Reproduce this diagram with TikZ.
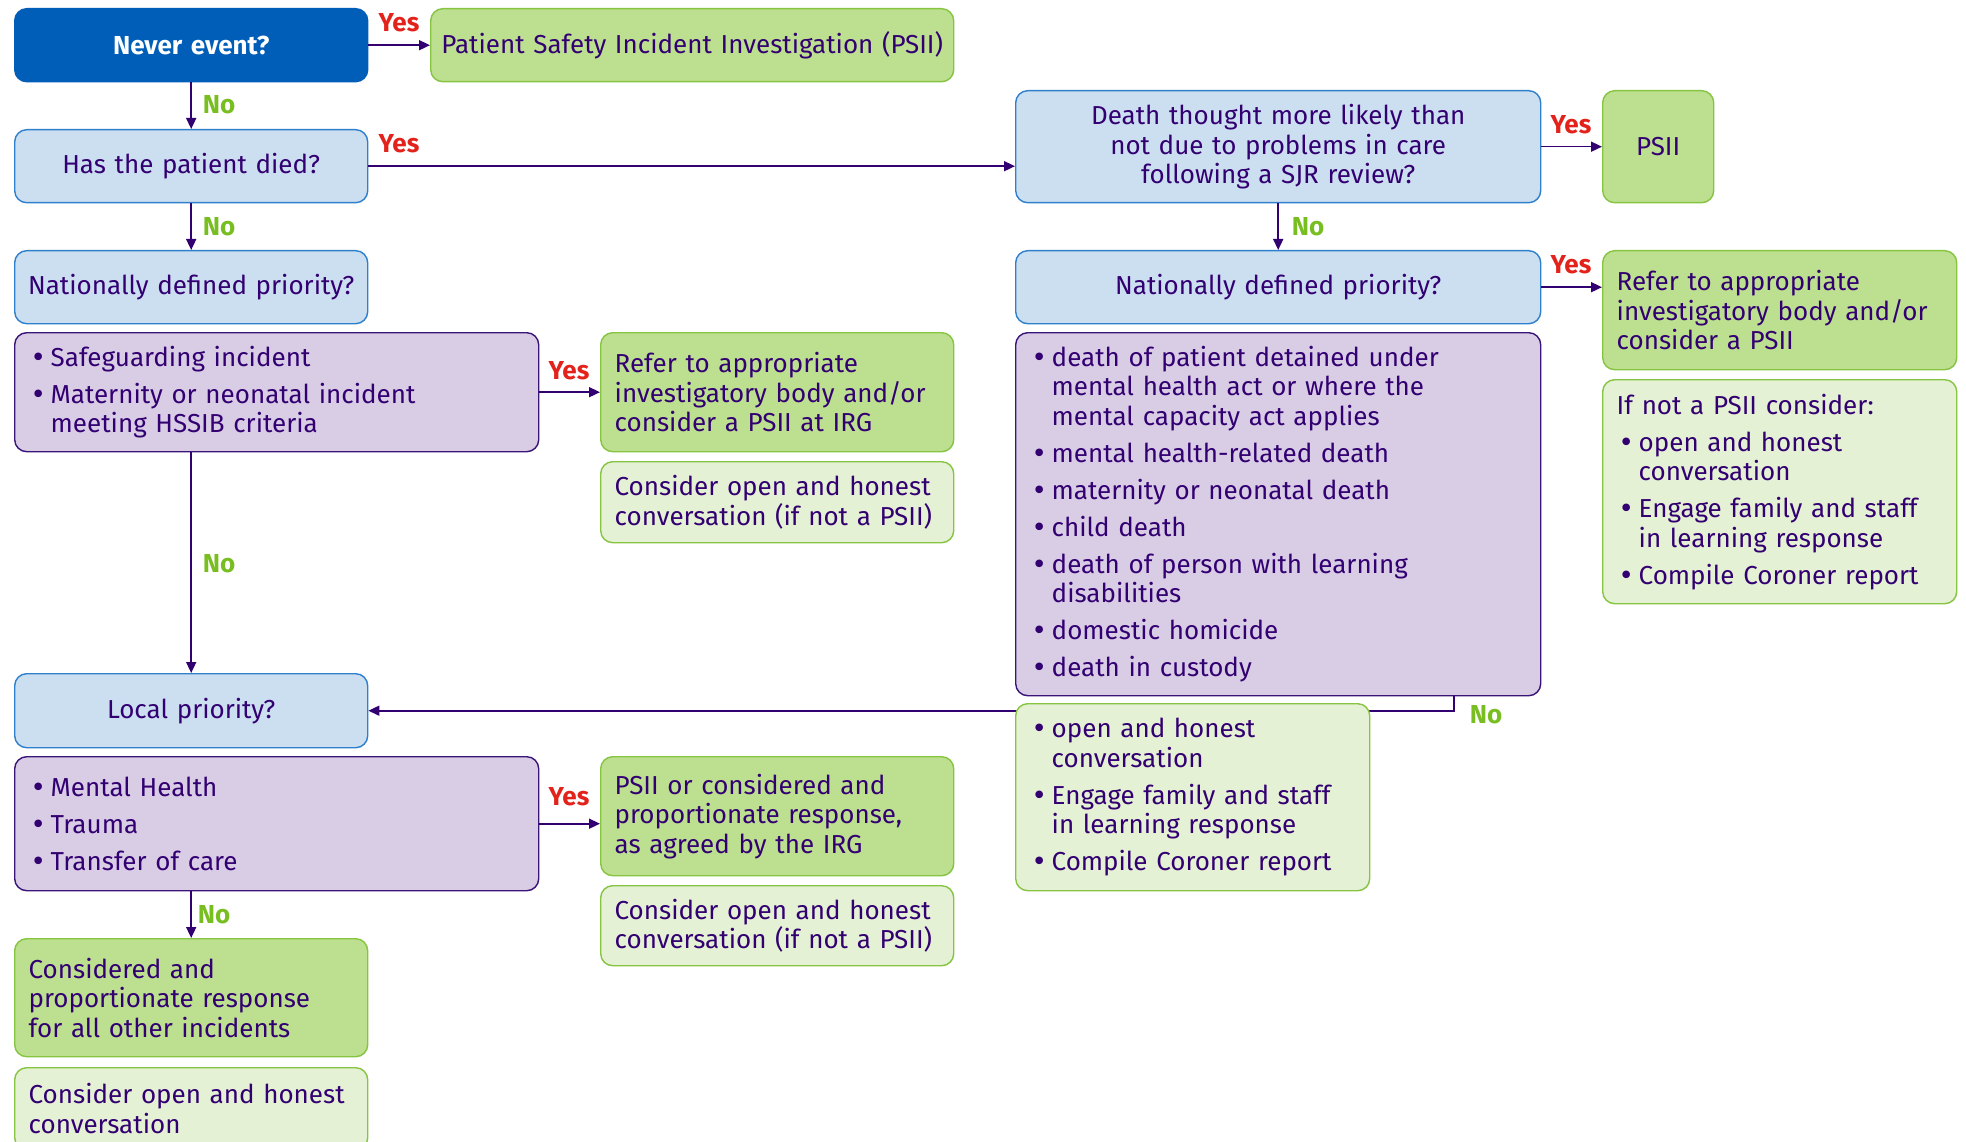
\documentclass[tikz,border=0pt]{standalone}
\usepackage{fontspec}
\setmainfont{Fira Sans}
\newfontfamily\bulfont{DejaVu Sans}
\usetikzlibrary{arrows.meta}

\definecolor{nhsblue}{HTML}{005EB8}
\definecolor{qfill}{HTML}{CCDFF1}
\definecolor{qdraw}{HTML}{2F80CC}
\definecolor{pfill}{HTML}{D8CDE5}
\definecolor{pdraw}{HTML}{3A1478}
\definecolor{gfill}{HTML}{BCE08F}
\definecolor{gdraw}{HTML}{86C441}
\definecolor{lgfill}{HTML}{E4F1D4}
\definecolor{txt}{HTML}{330072}
\definecolor{yescol}{HTML}{E3231B}
\definecolor{nocol}{HTML}{79BE21}

% bullet items with hanging indent
\newcommand{\itm}{\hspace*{2pt}\makebox[20pt][l]{\bulfont •}}
\newcommand{\cnt}{\hspace*{22pt}}
\newcommand{\bodysize}{\fontsize{26}{29.5}\selectfont}

\begin{document}
\begin{tikzpicture}[x=1pt,y=-1pt,
  box/.style={rounded corners=12pt, line width=1.4pt, inner xsep=14pt,
    inner ysep=0pt, anchor=north west, font=\bodysize, text=txt},
  qbox/.style={box, draw=qdraw, fill=qfill, align=center, inner xsep=6pt},
  topq/.style={box, draw=nhsblue, fill=nhsblue, text=white, align=center,
    inner xsep=6pt, font=\bfseries\bodysize},
  pbox/.style={box, draw=pdraw, fill=pfill, align=left},
  gbox/.style={box, draw=gdraw, fill=gfill, align=left},
  lgbox/.style={box, draw=gdraw, fill=lgfill, align=left},
  arr/.style={draw=txt, line width=1.6pt, -{Triangle[length=11pt,width=10pt]}},
  yes/.style={text=yescol, font=\bfseries\fontsize{26}{26}\selectfont, inner sep=0pt},
  no/.style={text=nocol, font=\bfseries\fontsize{26}{26}\selectfont, inner sep=0pt}
]
\useasboundingbox (0,0) rectangle (1966,1142);
\fill[white] (0,0) rectangle (1966,1142);

% ---- left column ----
\node[topq, minimum width=353pt, minimum height=73pt, text width=341pt] (never) at (14,8) {Never event?};
\node[gbox, align=center, inner xsep=3pt, minimum width=523pt, minimum height=73pt, text width=517pt] (psiia) at (430,8) {\mbox{Patient Safety Incident Investigation (PSII)}};
\node[qbox, minimum width=353pt, minimum height=73pt, text width=341pt] (died) at (14,129) {Has the patient died?};
\node[qbox, minimum width=353pt, minimum height=73pt, text width=341pt] (natl) at (14,250) {Nationally defined priority?};
\node[pbox, minimum width=524pt, minimum height=119pt, text width=496pt] (purpl) at (14,332)
  {\itm Safeguarding incident\\[7.5pt]
   \itm Maternity or neonatal incident\\
   \cnt meeting HSSIB criteria};
\node[gbox, minimum width=353pt, minimum height=119pt, text width=325pt] (referl) at (600,332)
  {Refer to appropriate\\investigatory body and/or\\consider a PSII at IRG};
\node[lgbox, minimum width=353pt, minimum height=81pt, text width=325pt] (consl) at (600,461)
  {Consider open and honest\\conversation (if not a PSII)};
\node[qbox, minimum width=353pt, minimum height=74pt, text width=341pt] (local) at (14,673) {Local priority?};
\node[pbox, minimum width=524pt, minimum height=134pt, text width=496pt] (purpl2) at (14,756)
  {\itm Mental Health\\[7.5pt]
   \itm Trauma\\[7.5pt]
   \itm Transfer of care};
\node[gbox, minimum width=353pt, minimum height=119pt, text width=325pt] (psiil2) at (600,756)
  {PSII or considered and\\proportionate response,\\as agreed by the IRG};
\node[lgbox, minimum width=353pt, minimum height=80pt, text width=325pt] (consl2) at (600,885)
  {Consider open and honest\\conversation (if not a PSII)};
\node[gbox, minimum width=353pt, minimum height=118pt, text width=325pt] (consid) at (14,938)
  {Considered and\\proportionate response\\for all other incidents};
\node[lgbox, minimum width=353pt, minimum height=82pt, text width=325pt] (consl3) at (14,1067)
  {Consider open and honest\\conversation};

% ---- right column ----
\node[qbox, minimum width=525pt, minimum height=112pt, text width=513pt] (death) at (1015,90)
  {Death thought more likely than\\not due to problems in care\\following a SJR review?};
\node[gbox, align=center, minimum width=111pt, minimum height=112pt, text width=83pt] (psiib) at (1602,90) {PSII};
\node[qbox, minimum width=525pt, minimum height=73pt, text width=513pt] (natr) at (1015,250) {Nationally defined priority?};
\node[gbox, minimum width=354pt, minimum height=119pt, text width=326pt] (referr) at (1602,250)
  {Refer to appropriate\\investigatory body and/or\\consider a PSII};
\node[lgbox, minimum width=354pt, minimum height=224pt, text width=326pt] (ifnot) at (1602,379)
  {If not a PSII consider:\\[7.5pt]
   \itm open and honest\\
   \cnt conversation\\[7.5pt]
   \itm Engage family and staff\\
   \cnt in learning response\\[7.5pt]
   \itm Compile Coroner report};
\node[pbox, minimum width=525pt, minimum height=363pt, text width=497pt] (purpr) at (1015,332)
  {\itm death of patient detained under\\
   \cnt mental health act or where the\\
   \cnt mental capacity act applies\\[7.5pt]
   \itm mental health-related death\\[7.5pt]
   \itm maternity or neonatal death\\[7.5pt]
   \itm child death\\[7.5pt]
   \itm death of person with learning\\
   \cnt disabilities\\[7.5pt]
   \itm domestic homicide\\[7.5pt]
   \itm death in custody};

% route from the national list back to the local question
\coordinate (turn) at (1454,710);
\draw[arr] (purpr.south -| turn) |- (local.east);

\node[lgbox, minimum width=354pt, minimum height=187pt, text width=326pt] (openr) at (1015,703)
  {\itm open and honest\\
   \cnt conversation\\[7.5pt]
   \itm Engage family and staff\\
   \cnt in learning response\\[7.5pt]
   \itm Compile Coroner report};

% ---- connectors ----
\draw[arr] (never.east) -- (psiia.west);
\draw[arr] (never.south) -- (died.north);
\draw[arr] (died.east) -- (died.east -| death.west);
\draw[arr] (died.south) -- (natl.north);
\draw[arr] (purpl.east) -- (referl.west);
\draw[arr] (purpl.south -| local.north) -- (local.north);
\draw[arr] (purpl2.east) -- (purpl2.east -| psiil2.west);
\draw[arr] (purpl2.south -| consid.north) -- (consid.north);
\draw[arr] (death.east) -- (psiib.west);
\draw[arr] (death.south) -- (natr.north);
\draw[arr] (natr.east) -- (natr.east -| referr.west);

% ---- Yes / No labels ----
\node[yes] (y1) at (399,23) {Yes};
\node[yes] (y2) at (399,144) {Yes};
\node[yes] (y3) at (569,371) {Yes};
\node[yes] (y4) at (569,797) {Yes};
\node[yes] (y5) at (1571,125) {Yes};
\node[yes] (y6) at (1571,265) {Yes};
\node[no] (n1) at (219,105) {No};
\node[no] (n2) at (219,227) {No};
\node[no] (n3) at (219,564) {No};
\node[no] (n4) at (214,915) {No};
\node[no] (n5) at (1308,227) {No};
\node[no] (n6) at (1486,715) {No};
\end{tikzpicture}
\end{document}
